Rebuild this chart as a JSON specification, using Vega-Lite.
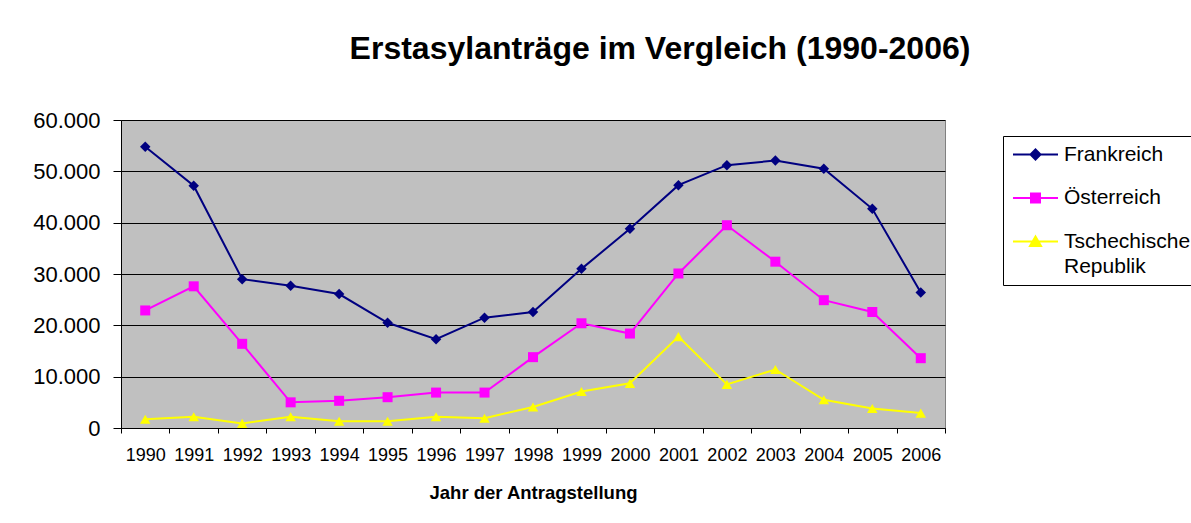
{
  "$schema": "https://vega.github.io/schema/vega-lite/v6.json",
  "width": 824,
  "height": 308,
  "autosize": {"type": "none"},
  "padding": {"left": 121, "top": 120, "right": 246, "bottom": 95},
  "background": "white",
  "title": {
    "text": "Erstasylanträge im Vergleich (1990-2006)",
    "font": "Liberation Sans",
    "fontSize": 32,
    "fontWeight": "bold",
    "color": "black",
    "anchor": "middle",
    "frame": "group",
    "dx": 127,
    "baseline": "alphabetic",
    "offset": 18
  },
  "data": {
    "values": [
      {"Jahr": "1990", "Land": "Frankreich", "Antraege": 54800},
      {"Jahr": "1991", "Land": "Frankreich", "Antraege": 47200},
      {"Jahr": "1992", "Land": "Frankreich", "Antraege": 29000},
      {"Jahr": "1993", "Land": "Frankreich", "Antraege": 27700},
      {"Jahr": "1994", "Land": "Frankreich", "Antraege": 26100},
      {"Jahr": "1995", "Land": "Frankreich", "Antraege": 20500},
      {"Jahr": "1996", "Land": "Frankreich", "Antraege": 17300},
      {"Jahr": "1997", "Land": "Frankreich", "Antraege": 21500},
      {"Jahr": "1998", "Land": "Frankreich", "Antraege": 22600},
      {"Jahr": "1999", "Land": "Frankreich", "Antraege": 31000},
      {"Jahr": "2000", "Land": "Frankreich", "Antraege": 38800},
      {"Jahr": "2001", "Land": "Frankreich", "Antraege": 47300},
      {"Jahr": "2002", "Land": "Frankreich", "Antraege": 51200},
      {"Jahr": "2003", "Land": "Frankreich", "Antraege": 52100},
      {"Jahr": "2004", "Land": "Frankreich", "Antraege": 50500},
      {"Jahr": "2005", "Land": "Frankreich", "Antraege": 42700},
      {"Jahr": "2006", "Land": "Frankreich", "Antraege": 26400},
      {"Jahr": "1990", "Land": "Österreich", "Antraege": 22900},
      {"Jahr": "1991", "Land": "Österreich", "Antraege": 27600},
      {"Jahr": "1992", "Land": "Österreich", "Antraege": 16400},
      {"Jahr": "1993", "Land": "Österreich", "Antraege": 5000},
      {"Jahr": "1994", "Land": "Österreich", "Antraege": 5300},
      {"Jahr": "1995", "Land": "Österreich", "Antraege": 6000},
      {"Jahr": "1996", "Land": "Österreich", "Antraege": 6900},
      {"Jahr": "1997", "Land": "Österreich", "Antraege": 6900},
      {"Jahr": "1998", "Land": "Österreich", "Antraege": 13800},
      {"Jahr": "1999", "Land": "Österreich", "Antraege": 20400},
      {"Jahr": "2000", "Land": "Österreich", "Antraege": 18400},
      {"Jahr": "2001", "Land": "Österreich", "Antraege": 30100},
      {"Jahr": "2002", "Land": "Österreich", "Antraege": 39500},
      {"Jahr": "2003", "Land": "Österreich", "Antraege": 32400},
      {"Jahr": "2004", "Land": "Österreich", "Antraege": 24900},
      {"Jahr": "2005", "Land": "Österreich", "Antraege": 22600},
      {"Jahr": "2006", "Land": "Österreich", "Antraege": 13600},
      {"Jahr": "1990", "Land": "Tschechische Republik", "Antraege": 1700},
      {"Jahr": "1991", "Land": "Tschechische Republik", "Antraege": 2200},
      {"Jahr": "1992", "Land": "Tschechische Republik", "Antraege": 900},
      {"Jahr": "1993", "Land": "Tschechische Republik", "Antraege": 2200},
      {"Jahr": "1994", "Land": "Tschechische Republik", "Antraege": 1300},
      {"Jahr": "1995", "Land": "Tschechische Republik", "Antraege": 1300},
      {"Jahr": "1996", "Land": "Tschechische Republik", "Antraege": 2200},
      {"Jahr": "1997", "Land": "Tschechische Republik", "Antraege": 1900},
      {"Jahr": "1998", "Land": "Tschechische Republik", "Antraege": 4100},
      {"Jahr": "1999", "Land": "Tschechische Republik", "Antraege": 7100},
      {"Jahr": "2000", "Land": "Tschechische Republik", "Antraege": 8700},
      {"Jahr": "2001", "Land": "Tschechische Republik", "Antraege": 17800},
      {"Jahr": "2002", "Land": "Tschechische Republik", "Antraege": 8500},
      {"Jahr": "2003", "Land": "Tschechische Republik", "Antraege": 11400},
      {"Jahr": "2004", "Land": "Tschechische Republik", "Antraege": 5500},
      {"Jahr": "2005", "Land": "Tschechische Republik", "Antraege": 3800},
      {"Jahr": "2006", "Land": "Tschechische Republik", "Antraege": 2900}
    ]
  },
  "encoding": {
    "x": {
      "field": "Jahr",
      "type": "ordinal",
      "bandPosition": 0.5,
      "scale": {"type": "band", "paddingInner": 0, "paddingOuter": 0},
      "axis": {
        "title": "Jahr der Antragstellung",
        "titleFont": "Liberation Sans",
        "titleFontSize": 18.5,
        "titleFontWeight": "bold",
        "titleColor": "black",
        "titlePadding": 19,
        "labelFont": "Liberation Sans",
        "labelFontSize": 18,
        "labelColor": "black",
        "labelAngle": 0,
        "labelPadding": 13,
        "tickBand": "extent",
        "tickSize": 5,
        "tickColor": "black",
        "domainColor": "black",
        "grid": false
      }
    },
    "y": {
      "field": "Antraege",
      "type": "quantitative",
      "scale": {"domain": [0, 60000], "nice": false},
      "axis": {
        "title": null,
        "values": [0, 10000, 20000, 30000, 40000, 50000, 60000],
        "labelExpr": "replace(format(datum.value, ','), ',', '.')",
        "labelFont": "Liberation Sans",
        "labelFontSize": 22,
        "labelColor": "black",
        "labelPadding": 13,
        "tickSize": 8,
        "tickColor": "black",
        "domainColor": "black",
        "grid": true,
        "gridColor": "black",
        "gridOpacity": 1,
        "gridWidth": 1
      }
    },
    "color": {
      "field": "Land",
      "type": "nominal",
      "scale": {
        "domain": ["Frankreich", "Österreich", "Tschechische Republik"],
        "range": ["#000080", "#FF00FF", "#FFFF00"]
      },
      "legend": {
        "title": null,
        "orient": "none",
        "legendX": 882,
        "legendY": 16,
        "strokeColor": "black",
        "fillColor": "white",
        "padding": 8,
        "labelFont": "Liberation Sans",
        "labelFontSize": 21,
        "labelColor": "black",
        "labelLimit": 400,
        "labelOffset": 18,
        "symbolOffset": 14,
        "symbolSize": 100,
        "symbolStrokeWidth": 2,
        "rowPadding": 21.5,
        "labelExpr": "datum.label == 'Tschechische Republik' ? ['Tschechische', 'Republik'] : datum.label",
        "encode": {
          "labels": {
            "update": {
              "lineHeight": {"value": 25}
            }
          },
          "symbols": {
            "update": {
              "shape": {"signal": "datum.value == 'Frankreich' ? 'M-4.5,0H4.5M0,-1L1,0L0,1L-1,0Z' : datum.value == 'Österreich' ? 'M-4.5,0H4.5M-0.9,-0.9H0.9V0.9H-0.9Z' : 'M-4.5,0H4.5M0,-1L1.1,0.9H-1.1Z'"},
              "strokeWidth": {"value": 2},
              "opacity": {"value": 1}
            }
          }
        }
      }
    }
  },
  "layer": [
    {"mark": {"type": "line", "strokeWidth": 2}},
    {
      "transform": [{"filter": "datum.Land == 'Frankreich'"}],
      "mark": {"type": "point", "shape": "diamond", "filled": true, "opacity": 1, "size": 110}
    },
    {
      "transform": [{"filter": "datum.Land == 'Österreich'"}],
      "mark": {"type": "point", "shape": "square", "filled": true, "opacity": 1, "size": 100}
    },
    {
      "transform": [{"filter": "datum.Land == 'Tschechische Republik'"}],
      "mark": {"type": "point", "shape": "triangle-up", "filled": true, "opacity": 1, "size": 110}
    }
  ],
  "config": {
    "view": {"fill": "#C0C0C0", "stroke": "#808080", "strokeWidth": 1}
  }
}
